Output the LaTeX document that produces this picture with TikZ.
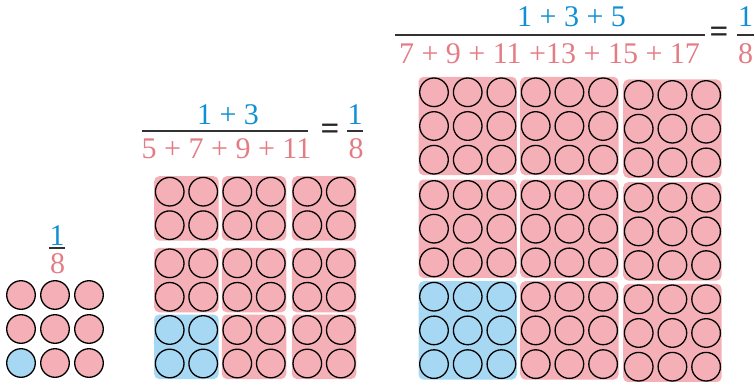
\documentclass[tikz,border=0pt]{standalone}
\usepackage{fontspec}
\setmainfont{Liberation Serif}
\definecolor{pinkfill}{RGB}{244,176,182}
\definecolor{bluefill}{RGB}{166,216,244}
\definecolor{bluetext}{RGB}{16,144,212}
\definecolor{pinktext}{RGB}{228,124,134}
\definecolor{rulecol}{RGB}{50,50,50}
\newcommand\circgroup[5]{% x0, y0, last index, spacing, colour
  \fill[#5, rounded corners=5pt] ({#1-15.5},{#2-15.5}) rectangle ({#1+#3*#4+15.5},{#2+#3*#4+15.5});
  \foreach \ii in {0,...,#3}{\foreach \jj in {0,...,#3}{%
    \draw[dot, fill=#5] ({#1+\ii*#4},{#2+\jj*#4}) circle[radius=14.3];}}%
}
\begin{document}
\begin{tikzpicture}[x=1pt,y=-1pt,
  dot/.style={draw=black, line width=1.3pt},
  numtext/.style={inner sep=0pt, anchor=base, font=\fontsize{30}{36}\selectfont},
  eqtext/.style={inner sep=0pt, anchor=center, text=black!85, font=\bfseries\fontsize{33}{38}\selectfont},
  fracrule/.style={draw=rulecol, line width=1.3pt}]
\useasboundingbox (0,0) rectangle (754,382);

% ---------- left: 3x3 circles ----------
\foreach \cx/\cy/\col in {21/295/pinkfill,55/295/pinkfill,89/295/pinkfill,
                           21/329/pinkfill,55/329/pinkfill,89/329/pinkfill,
                           21/363/bluefill,55/363/pinkfill,89/363/pinkfill}{
  \draw[dot, fill=\col] (\cx,\cy) circle[radius=14.3];}
\node[numtext, text=bluetext] (ln) at (57,245) {1};
\node[numtext, text=pinktext] (ld) at (57.5,273) {8};
\coordinate (lr1) at (49,248); \coordinate (lr2) at (65,248);
\draw[fracrule] (lr1) -- (lr2);

% ---------- middle: 3x3 groups of 2x2 ----------
\circgroup{169.7}{191.7}{1}{33.5}{pinkfill}
\circgroup{237.3}{191.7}{1}{33.5}{pinkfill}
\circgroup{307.3}{191.7}{1}{33.5}{pinkfill}
\circgroup{169.7}{263.3}{1}{33.5}{pinkfill}
\circgroup{237.3}{263.3}{1}{33.5}{pinkfill}
\circgroup{307.3}{263.3}{1}{33.5}{pinkfill}
\circgroup{169.7}{330}{1}{33.5}{bluefill}
\circgroup{237.3}{330}{1}{33.5}{pinkfill}
\circgroup{307.3}{330}{1}{33.5}{pinkfill}

\node[numtext, text=bluetext] (mn) at (228,125) {1 + 3};
\node[numtext, text=pinktext] (md) at (226.5,159) {5 + 7 + 9 + 11};
\coordinate (mr1) at (142,131); \coordinate (mr2) at (308,131);
\draw[fracrule] (mr1) -- (mr2);
\node[eqtext] (meq) at (330,131.5) {=};
\node[numtext, text=bluetext] (mn2) at (355,125) {1};
\node[numtext, text=pinktext] (md2) at (356,159) {8};
\coordinate (ms1) at (347,131); \coordinate (ms2) at (363,131);
\draw[fracrule] (ms1) -- (ms2);

% ---------- right: 3x3 groups of 3x3 ----------
\circgroup{434}{92.3}{2}{33.7}{pinkfill}
\circgroup{535.7}{92.3}{2}{33.7}{pinkfill}
\circgroup{638.7}{95}{2}{33.7}{pinkfill}
\circgroup{434}{195}{2}{33.7}{pinkfill}
\circgroup{535.7}{195}{2}{33.7}{pinkfill}
\circgroup{638.7}{197.7}{2}{33.7}{pinkfill}
\circgroup{434}{296.7}{2}{33.7}{bluefill}
\circgroup{535.7}{296.7}{2}{33.7}{pinkfill}
\circgroup{638.7}{299.3}{2}{33.7}{pinkfill}

\node[numtext, text=bluetext] (rn) at (571.5,26.7) {1 + 3 + 5};
\node[numtext, text=pinktext] (rd) at (549.5,63.3) {7 + 9 + 11 +13 + 15 + 17};
\coordinate (rr1) at (395,35); \coordinate (rr2) at (705,35);
\draw[fracrule] (rr1) -- (rr2);
\node[eqtext] (req) at (719,35) {=};
\node[numtext, text=bluetext] (rn2) at (745.5,26.7) {1};
\node[numtext, text=pinktext] (rd2) at (745.5,63.3) {8};
\coordinate (rs1) at (737,35); \coordinate (rs2) at (754,35);
\draw[fracrule] (rs1) -- (rs2);
\end{tikzpicture}
\end{document}
